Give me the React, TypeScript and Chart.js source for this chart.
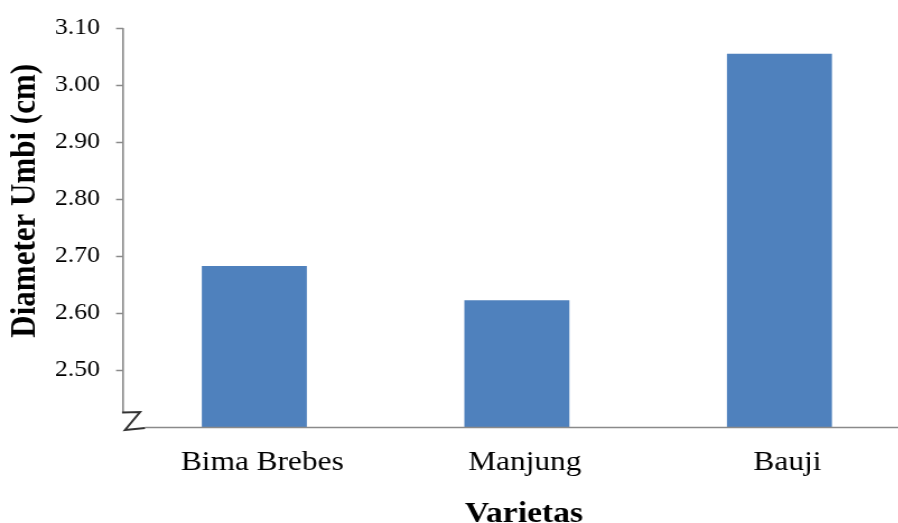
import React, { useEffect, useRef } from "react";
import { Chart, registerables } from "chart.js";

Chart.register(...registerables);

const categories = ["Bima Brebes", "Manjung", "Bauji"];
const diameterValues = [2.683, 2.623, 3.055];
const yMin = 2.4;
const yMax = 3.1;
const yStep = 0.1;
const yTitle = "Diameter Umbi (cm)";
const xTitle = "Varietas";

const STRETCH = 1.12; // horizontal CSS stretch of the canvas
const INTERNAL_W = 815;
const H = 523;
const FONT = "'Liberation Serif', 'Times New Roman', serif";
const AXIS_COLOR = "#8a8a8a";

const decorPlugin = {
  id: "decor",
  afterDraw(chart: any) {
    const { ctx, chartArea } = chart;
    const left = chartArea.left;
    const bottom = chartArea.bottom;
    const top = chartArea.top;
    const sx = (v: number) => v / STRETCH;
    ctx.save();
    // axis lines
    ctx.strokeStyle = AXIS_COLOR;
    ctx.lineWidth = 1.6;
    ctx.beginPath();
    ctx.moveTo(left, top);
    ctx.lineTo(left, bottom - 15);
    ctx.stroke();
    ctx.beginPath();
    ctx.moveTo(left + sx(22), bottom);
    ctx.lineTo(chart.width, bottom);
    ctx.stroke();
    // axis break symbol
    ctx.strokeStyle = "#333333";
    ctx.lineWidth = 2;
    ctx.lineJoin = "miter";
    ctx.beginPath();
    ctx.moveTo(left + sx(-1), bottom - 15);
    ctx.lineTo(left + sx(17), bottom - 15.5);
    ctx.lineTo(left + sx(2), bottom + 2.5);
    ctx.lineTo(left + sx(22), bottom + 0.5);
    ctx.stroke();
    // titles
    ctx.fillStyle = "#000";
    ctx.font = `bold 31px ${FONT}`;
    ctx.textAlign = "center";
    ctx.textBaseline = "alphabetic";
    ctx.translate(sx(35), 200.8);
    ctx.rotate(-Math.PI / 2);
    ctx.fillText(yTitle, 0, 0);
    ctx.restore();
    ctx.save();
    ctx.fillStyle = "#000";
    ctx.font = `bold 30px ${FONT}`;
    ctx.textAlign = "center";
    ctx.textBaseline = "alphabetic";
    ctx.fillText(xTitle, sx(523.8), 521.5);
    ctx.restore();
  },
};

export default function App() {
  const canvasRef = useRef<HTMLCanvasElement | null>(null);

  useEffect(() => {
    if (!canvasRef.current) return;
    const chart = new Chart(canvasRef.current, {
      type: "bar",
      data: {
        labels: categories,
        datasets: [
          {
            data: diameterValues,
            backgroundColor: "#4F81BD",
            borderWidth: 0,
            barPercentage: 0.4,
            categoryPercentage: 1,
          },
        ],
      },
      options: {
        responsive: false,
        animation: false,
        devicePixelRatio: 1,
        layout: { padding: { left: 0, right: INTERNAL_W - 910.5 / STRETCH, top: 25, bottom: 0 } },
        plugins: {
          legend: { display: false },
          tooltip: { enabled: false },
          title: { display: false },
        },
        scales: {
          x: {
            type: "category",
            offset: true,
            border: { display: false },
            grid: { display: false, drawTicks: false },
            ticks: {
              color: "#000",
              font: { family: FONT, size: 28 },
              padding: 18,
              labelOffset: 8 / STRETCH,
              maxRotation: 0,
              autoSkip: false,
            },
            afterFit: (scale: any) => {
              scale.height = H - 427.5;
            },
          },
          y: {
            min: yMin,
            max: yMax,
            border: { display: false },
            grid: {
              drawOnChartArea: false,
              drawTicks: true,
              tickLength: 7 / STRETCH,
              tickWidth: 1.5,
              tickColor: (ctx: any) =>
                ctx.tick && ctx.tick.value < yMin + yStep / 2 ? "rgba(0,0,0,0)" : AXIS_COLOR,
            },
            ticks: {
              stepSize: yStep,
              color: "#000",
              font: { family: FONT, size: 23 },
              padding: 16 / STRETCH,
              callback: (value: any) =>
                Number(value) < yMin + yStep / 2 ? "" : Number(value).toFixed(2),
            },
            afterFit: (scale: any) => {
              scale.width = 123 / STRETCH;
            },
          },
        },
      },
      plugins: [decorPlugin],
    });
    return () => chart.destroy();
  }, []);

  return (
    <div
      style={{
        position: "absolute",
        left: 0,
        top: 0,
        width: 898,
        height: H,
        overflow: "hidden",
        background: "#fff",
      }}
    >
      <canvas
        ref={canvasRef}
        width={INTERNAL_W}
        height={H}
        style={{ width: `${INTERNAL_W * STRETCH}px`, height: `${H}px`, display: "block" }}
      />
    </div>
  );
}
